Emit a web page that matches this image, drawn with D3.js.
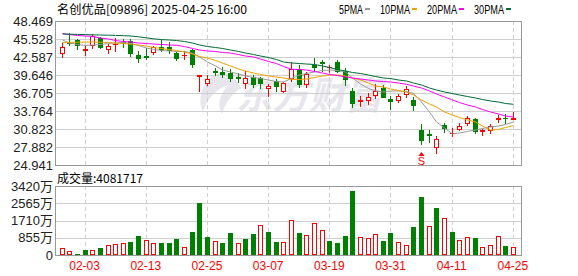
<!DOCTYPE html>
<html>
<head>
<meta charset="utf-8">
<script src="https://cdn.jsdelivr.net/npm/d3@7"></script>
<style>
body { margin: 0; background: #fff; }
svg { display: block; }
</style>
</head>
<body>
<svg id="chart"></svg>
<script>
// trading days shown (MM-DD)
var dates = ["01-24","01-27","01-28","02-03","02-04","02-05","02-06","02-07","02-10","02-11",
  "02-12","02-13","02-14","02-17","02-18","02-19","02-20","02-21","02-24","02-25",
  "02-26","02-27","02-28","03-03","03-04","03-05","03-06","03-07","03-10","03-11",
  "03-12","03-13","03-14","03-17","03-18","03-19","03-20","03-21","03-24","03-25",
  "03-26","03-27","03-28","03-31","04-01","04-02","04-03","04-07","04-08","04-09",
  "04-10","04-11","04-14","04-15","04-16","04-17","04-22","04-23","04-24","04-25"];

var open = [43.29,44.92,45.31,43.73,44.55,45.64,43.94,44.70,45.10,45.20,
  42.91,42.75,43.35,44.30,44.22,43.16,42.87,43.65,39.48,38.34,
  40.22,40.14,39.92,39.32,38.39,39.32,39.11,37.47,38.67,37.08,
  39.13,40.55,38.10,41.28,41.77,40.95,41.77,40.35,37.08,35.40,
  35.56,36.30,37.60,35.72,35.64,36.46,35.56,30.66,30.01,27.88,
  31.48,30.17,30.77,31.75,32.41,30.55,30.74,32.49,32.70,32.46];
var high = [44.92,46.46,45.58,44.34,46.34,45.80,44.79,45.69,45.48,45.53,
  43.57,44.06,44.38,45.36,45.04,43.45,43.57,43.97,39.65,39.65,
  40.71,40.90,40.58,39.92,40.38,39.65,39.37,38.18,38.94,38.55,
  41.77,41.28,40.14,42.37,42.02,41.36,42.10,40.74,37.60,36.22,
  36.69,38.10,38.01,36.22,36.62,37.77,35.97,31.64,30.66,29.68,
  31.85,30.94,31.88,32.95,32.62,30.82,31.64,33.06,33.27,33.60];
var low = [42.64,44.55,43.94,42.99,44.06,44.00,43.24,43.62,44.30,42.75,
  41.85,42.26,43.08,43.57,43.24,42.10,42.21,40.95,37.03,38.09,
  39.65,39.40,38.67,38.55,37.60,37.69,37.60,36.22,37.03,36.92,
  38.67,37.69,37.63,40.22,40.22,40.19,40.19,38.01,34.42,34.58,
  34.91,35.89,36.05,34.09,35.28,35.97,33.93,28.37,28.75,26.98,
  30.38,29.76,30.58,31.46,30.17,29.84,30.25,31.92,31.88,32.41];
var close = [44.17,44.87,44.50,43.94,46.02,44.30,44.38,44.78,44.82,43.16,
  42.42,42.54,44.17,43.90,43.65,42.42,42.91,41.44,39.60,39.07,
  40.14,39.89,39.11,39.20,39.11,38.23,38.39,37.85,37.80,38.29,
  40.58,38.18,39.81,41.03,41.61,41.03,40.38,38.99,35.07,35.48,
  36.10,37.08,36.13,35.40,36.27,37.28,34.74,29.03,29.84,29.14,
  30.99,30.25,31.39,32.57,30.50,30.62,31.31,32.57,32.54,32.62];

// volume in 万 shares
var volume = [332,213,50,248,248,347,496,545,578,644,
  942,744,578,595,595,793,380,1140,2593,909,
  694,578,1075,578,793,1041,1470,1140,644,644,
  1735,1075,975,1570,1239,694,595,942,3172,876,
  826,1025,694,1075,628,496,1388,2875,1437,2330,
  1834,1140,744,876,843,380,479,926,446,408.1717];

var ma5 = [45.36,44.87,44.63,44.46,44.55,44.63,44.79,44.87,44.96,44.79,
  44.46,44.06,43.81,43.65,43.57,43.49,43.49,43.24,42.59,41.77,
  41.12,40.46,40.14,39.81,39.48,39.24,39.07,38.83,38.58,38.50,
  39.07,39.65,39.89,40.14,40.38,40.46,40.38,40.14,39.16,38.18,
  37.44,37.03,36.87,37.03,37.03,36.95,36.62,35.23,33.60,31.97,
  30.99,30.01,30.17,30.42,30.66,30.90,31.15,31.31,31.56,31.97];
var ma10 = [44.96,44.96,44.99,45.04,45.04,45.00,44.96,44.87,44.79,44.71,
  44.55,44.38,44.14,43.98,43.81,43.65,43.40,43.08,42.67,42.42,
  42.01,41.61,41.12,40.63,40.30,39.97,39.73,39.48,39.32,39.16,
  38.91,38.91,38.99,39.24,39.48,39.65,39.65,39.48,39.16,38.83,
  38.34,37.85,37.69,37.36,37.11,36.87,36.38,35.56,34.91,34.42,
  33.60,33.11,32.70,32.29,31.97,31.31,30.66,30.74,31.07,31.39];
var ma20 = [46.43,46.26,46.10,46.02,45.94,45.69,45.53,45.28,45.12,45.04,
  44.87,44.79,44.71,44.63,44.55,44.50,44.30,43.98,43.73,43.57,
  43.49,43.32,43.24,42.99,42.75,42.59,42.26,41.85,41.52,41.03,
  40.58,40.54,40.46,40.22,39.97,39.73,39.56,39.32,39.16,38.99,
  38.83,38.67,38.58,38.50,38.34,38.13,37.85,37.52,37.03,36.54,
  36.05,35.56,35.15,34.74,34.42,34.01,33.60,33.27,32.95,32.78];
var ma30 = [46.34,46.31,46.28,46.25,46.21,46.18,46.15,46.12,46.07,46.02,
  45.89,45.72,45.56,45.43,45.36,45.28,45.12,44.87,44.55,44.30,
  44.14,43.98,43.73,43.49,43.24,42.99,42.75,42.50,42.18,41.77,
  41.61,41.52,41.44,41.36,41.12,40.87,40.54,40.30,40.05,39.89,
  39.65,39.40,39.16,39.07,38.83,38.67,38.34,38.01,37.52,37.20,
  36.87,36.62,36.38,36.13,35.89,35.64,35.40,35.23,34.99,34.86];

var maNames = ["5PMA","10PMA","20PMA","30PMA"];
var priceTicks = [48.469,45.528,42.587,39.646,36.705,33.764,30.823,27.882,24.941];
var volTicks = [3420,2565,1710,855,0];
var labelDates = ["02-03","02-13","02-25","03-07","03-19","03-31","04-11","04-25"];
var signalDate = "04-07";

var title = "名创优品[09896] 2025-04-25 16:00";

function main() {
    var W = 578, H = 276;
    var left = 55, right = 522;
    var pTop = 21, pBot = 165, vTop = 186, vBot = 255;
    var RED = "#ff0000", GREEN = "#008000";
    var maColors = ["#9a9a9a", "#f0a000", "#ff00ff", "#006b38"];
    var fontNum = "'Liberation Sans', Arial, 'Noto Sans CJK SC', sans-serif";
    var fontCjk = "'Noto Sans CJK SC', 'Liberation Sans', sans-serif";

    var svg = d3.select("#chart").attr("width", W).attr("height", H);

    var x = d3.scaleBand().domain(dates).range([56.5, 518]).padding(0.35);
    var y = d3.scaleLinear().domain([24.941, 48.469]).range([pBot, pTop]);
    var yv = d3.scaleLinear().domain([0, 3420]).range([vBot, vTop]);
    function cx(d) { return Math.round(x(d) + x.bandwidth() / 2); }

    // watermark
    var wm = svg.append("g").attr("fill", "#e6e6ec");
    wm.append("path")
        .attr("d", "M222,72 C204,78 196,96 203,112 C207,99 215,90 228,85 C219,96 217,105 222,114 C226,101 234,92 241,88 C237,79 230,74 222,72 Z");
    wm.append("text")
        .attr("x", 236).attr("y", 109)
        .attr("font-family", fontCjk).attr("font-weight", "bold")
        .attr("font-size", 38).attr("font-style", "italic")
        .attr("textLength", 146).attr("lengthAdjust", "spacingAndGlyphs")
        .text("东方财富");

    // grid - price
    svg.append("g").selectAll("line").data(priceTicks.slice(1, -1)).enter().append("line")
        .attr("x1", left).attr("x2", right)
        .attr("y1", function(d){ return Math.round(y(d)) + 0.5; })
        .attr("y2", function(d){ return Math.round(y(d)) + 0.5; })
        .attr("stroke", "#cfcfcf");
    svg.append("g").selectAll("line").data(volTicks.slice(1, -1)).enter().append("line")
        .attr("x1", left).attr("x2", right)
        .attr("y1", function(d){ return Math.round(yv(d)) + 0.5; })
        .attr("y2", function(d){ return Math.round(yv(d)) + 0.5; })
        .attr("stroke", "#cfcfcf");
    // vertical dashed
    [[pTop, pBot], [vTop, vBot]].forEach(function(r){
        svg.append("g").selectAll("line").data(labelDates).enter().append("line")
            .attr("x1", function(d){ return cx(d) + 0.5; })
            .attr("x2", function(d){ return cx(d) + 0.5; })
            .attr("y1", r[0]).attr("y2", r[1])
            .attr("stroke", "#cfcfcf").attr("stroke-dasharray", "4,3");
    });

    // candles
    var idx = d3.range(dates.length);
    var cg = svg.append("g");
    idx.forEach(function(i){
        var up = close[i] >= open[i];
        var col = up ? RED : GREEN;
        var c = cx(dates[i]);
        var top = Math.round(y(Math.max(open[i], close[i])));
        var bot = Math.round(y(Math.min(open[i], close[i])));
        cg.append("line")
            .attr("x1", c + 0.5).attr("x2", c + 0.5)
            .attr("y1", Math.round(y(high[i]))).attr("y2", Math.round(y(low[i])) + 1)
            .attr("stroke", col);
        if (bot - top < 1) {
            cg.append("rect").attr("x", c - 2).attr("y", top).attr("width", 5).attr("height", 1).attr("fill", col);
        } else if (up) {
            cg.append("rect").attr("x", c - 1.5).attr("y", top + 0.5).attr("width", 4).attr("height", bot - top)
                .attr("fill", "#fff").attr("stroke", col);
        } else {
            cg.append("rect").attr("x", c - 2).attr("y", top).attr("width", 5).attr("height", bot - top + 1)
                .attr("fill", col);
        }
    });

    // moving averages
    [ma5, ma10, ma20, ma30].forEach(function(arr, k){
        var line = d3.line()
            .x(function(d, i){ return cx(dates[i]) + 0.5; })
            .y(function(d){ return y(d); });
        svg.append("path").datum(arr)
            .attr("d", line).attr("fill", "none")
            .attr("stroke", maColors[k]).attr("stroke-width", 1);
    });

    // signal marker
    var sx = cx(signalDate) + 0.5;
    svg.append("path").attr("d", "M" + (sx - 3) + "," + 156 + " L" + sx + "," + 152 + " L" + (sx + 3) + "," + 156 + " Z")
        .attr("fill", RED);
    svg.append("text").attr("x", sx).attr("y", 165).attr("text-anchor", "middle")
        .attr("font-family", fontNum).attr("font-size", 11).attr("fill", RED).text("S");

    // volume bars
    var vg = svg.append("g");
    idx.forEach(function(i){
        var up = i === 0 ? close[i] >= open[i] : close[i] >= close[i - 1];
        var c = cx(dates[i]);
        var top = Math.round(yv(volume[i]));
        if (up) {
            vg.append("rect").attr("x", c - 1.5).attr("y", top + 0.5).attr("width", 4).attr("height", vBot - top - 1)
                .attr("fill", "#fff").attr("stroke", RED);
        } else {
            vg.append("rect").attr("x", c - 2).attr("y", top).attr("width", 5).attr("height", vBot - top)
                .attr("fill", GREEN);
        }
    });

    // frames
    [[pTop, pBot], [vTop, vBot]].forEach(function(r){
        svg.append("rect").attr("x", left + 0.5).attr("y", r[0] + 0.5)
            .attr("width", right - left - 1).attr("height", r[1] - r[0])
            .attr("fill", "none").attr("stroke", "#999");
    });

    // axes
    var ax = svg.append("g").attr("transform", "translate(" + left + ",0)")
        .call(d3.axisLeft(y).tickValues(priceTicks).tickSize(0).tickPadding(2).tickFormat(d3.format(".3f")));
    var axv = svg.append("g").attr("transform", "translate(" + left + ",0)")
        .call(d3.axisLeft(yv).tickValues(volTicks).tickSize(0).tickPadding(2)
            .tickFormat(function(d){ return d === 0 ? "0" : d + "万"; }));
    var axx = svg.append("g").attr("transform", "translate(0," + vBot + ")")
        .call(d3.axisBottom(x).tickValues(labelDates).tickSize(0).tickPadding(6));
    [ax, axv, axx].forEach(function(g){
        g.select(".domain").remove();
        g.selectAll("text").attr("font-family", fontNum).attr("font-size", 13).attr("fill", "#222");
    });
    axx.selectAll("text").attr("fill", RED).attr("font-size", 12);

    // title + legend
    svg.append("text").attr("x", 57).attr("y", 14)
        .attr("font-family", fontCjk).attr("font-size", 12).attr("fill", "#000")
        .attr("textLength", 190).attr("lengthAdjust", "spacingAndGlyphs")
        .text(title);
    var lx = 339;
    maNames.forEach(function(name, k){
        var tw = name.length * 6;
        svg.append("text").attr("x", lx).attr("y", 14)
            .attr("font-family", fontNum).attr("font-size", 12).attr("fill", "#000")
            .attr("textLength", tw).attr("lengthAdjust", "spacingAndGlyphs")
            .text(name);
        svg.append("rect").attr("x", lx + tw + 2).attr("y", 8).attr("width", 5).attr("height", 2)
            .attr("fill", maColors[k]);
        lx += tw + 17;
    });

    svg.append("text").attr("x", 57).attr("y", 183)
        .attr("font-family", fontCjk).attr("font-size", 12).attr("fill", "#000")
        .text("成交量:" + Math.round(volume[volume.length - 1] * 10000));
}
main();
</script>
</body>
</html>
